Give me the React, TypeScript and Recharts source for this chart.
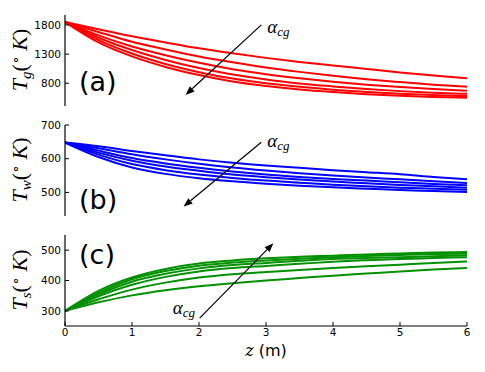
import { LineChart, Line, XAxis, YAxis, ReferenceLine } from 'recharts';

// axial position (m)
const zPoints = [0, 0.5, 1, 1.5, 2, 2.5, 3, 3.5, 4, 4.5, 5, 5.5, 6];
const zTicks = [0, 1, 2, 3, 4, 5, 6];

// (a) gas temperature, one row per alpha_cg
const tgSeries = [
	[1850, 1725, 1605, 1500, 1400, 1315, 1235, 1165, 1105, 1045, 985, 932, 886],
	[1850, 1680, 1510, 1380, 1260, 1160, 1070, 995, 930, 870, 820, 775, 740],
	[1850, 1620, 1430, 1280, 1150, 1040, 955, 885, 825, 775, 735, 700, 672],
	[1850, 1580, 1370, 1200, 1060, 950, 865, 795, 745, 700, 665, 638, 618],
	[1850, 1540, 1310, 1130, 990, 880, 800, 740, 690, 652, 620, 597, 580],
	[1850, 1500, 1260, 1080, 940, 830, 752, 692, 648, 612, 585, 565, 550],
];
const tgTicks = [800, 1300, 1800];

// (b) wall temperature
const twSeries = [
	[648, 637, 623, 610, 598, 588, 580, 573, 566, 560, 554, 546, 539],
	[648, 631, 613, 598, 585, 574, 565, 557, 550, 544, 539, 533, 528],
	[648, 624, 602, 586, 573, 562, 553, 546, 540, 535, 530, 525, 521],
	[648, 618, 594, 577, 564, 553, 545, 538, 532, 527, 522, 518, 514],
	[648, 612, 584, 566, 553, 543, 535, 529, 523, 518, 514, 511, 508],
	[648, 605, 574, 555, 542, 533, 526, 520, 515, 511, 507, 504, 501],
];
const twTicks = [500, 600, 700];

// (c) solid temperature
const tsSeries = [
	[300, 366, 410, 438, 456, 466, 473, 478, 482, 486, 489, 492, 494],
	[300, 359, 404, 431, 449, 459, 466, 472, 477, 481, 484, 487, 489],
	[300, 354, 396, 422, 440, 451, 458, 465, 471, 474, 477, 480, 483],
	[300, 348, 386, 412, 430, 441, 448, 455, 462, 467, 471, 474, 477],
	[300, 338, 370, 393, 410, 421, 428, 435, 441, 447, 452, 458, 463],
	[300, 328, 351, 368, 381, 391, 400, 408, 416, 423, 430, 436, 441],
];
const tsTicks = [300, 400, 500];

const FONT = 'DejaVu Sans, sans-serif';
const SERIF = 'DejaVu Serif, serif';
const MATH = 'Liberation Serif, serif';

function toRows(series: number[][]) {
	return zPoints.map((z, i) => {
		const row: Record<string, number> = { z };
		series.forEach((s, k) => (row[`s${k}`] = s[i]));
		return row;
	});
}

function arrowShape(dx: number, dy: number) {
	return (props: any) => {
		const { x1, y1, x2, y2 } = props;
		const ang = Math.atan2(y2 - y1, x2 - x1);
		const len = 9;
		const w = 3.5;
		const bx = x2 - len * Math.cos(ang);
		const by = y2 - len * Math.sin(ang);
		const px = -Math.sin(ang) * w;
		const py = Math.cos(ang) * w;
		return (
			<g>
				<line x1={x1} y1={y1} x2={bx} y2={by} stroke="#000" strokeWidth={1.2} />
				<polygon points={`${x2},${y2} ${bx + px},${by + py} ${bx - px},${by - py}`} fill="#000" />
				<text x={x1 + dx} y={y1 + dy} fontFamily={MATH} fontStyle="italic" fontSize={19} fill="#000">
					α<tspan fontSize={13} dy={3}>cg</tspan>
				</text>
			</g>
		);
	};
}

type PanelProps = {
	series: number[][];
	color: string;
	domain: [number, number];
	ticks: number[];
	top: number;
	height: number;
	showX: boolean;
	arrow: { from: { x: number; y: number }; to: { x: number; y: number }; dx: number; dy: number };
};

function Panel({ series, color, domain, ticks, top, height, showX, arrow }: PanelProps) {
	const rows = toRows(series);
	const axisLine = { stroke: '#000', strokeWidth: 1.2 };
	const tickLine = { stroke: '#000', strokeWidth: 1 };
	const tickStyle = { fontSize: 10.5, fill: '#000', fontFamily: FONT };
	return (
		<div style={{ position: 'absolute', left: 0, top, width: 485, height }}>
			<LineChart width={485} height={height} data={rows} margin={{ top: 15, right: 18, left: 0, bottom: showX ? 16 : 14 }}>
				<XAxis xAxisId="b" dataKey="z" type="number" domain={[0, 6]} ticks={zTicks} orientation="bottom"
					height={showX ? 30 : 0} tick={showX ? tickStyle : false} tickSize={-4} tickMargin={7}
					axisLine={axisLine} tickLine={tickLine} allowDataOverflow />
				<XAxis xAxisId="t" dataKey="z" type="number" domain={[0, 6]} ticks={zTicks} orientation="top"
					height={0} tick={false} tickSize={-4} axisLine={axisLine} tickLine={tickLine} allowDataOverflow />
				<YAxis yAxisId="l" type="number" domain={domain} ticks={ticks} orientation="left" width={65}
					tick={tickStyle} tickSize={-4} tickMargin={8} axisLine={axisLine} tickLine={tickLine} allowDataOverflow />
				<YAxis yAxisId="r" type="number" domain={domain} ticks={ticks} orientation="right" width={0}
					tick={false} tickSize={-4} axisLine={axisLine} tickLine={tickLine} allowDataOverflow />
				{series.map((_, k) => (
					<Line key={k} xAxisId="b" yAxisId="l" dataKey={`s${k}`} type="monotone" stroke={color}
						strokeWidth={2} dot={false} isAnimationActive={false} />
				))}
				<ReferenceLine xAxisId="b" yAxisId="l" segment={[arrow.from, arrow.to]}
					shape={arrowShape(arrow.dx, arrow.dy)} ifOverflow="visible" />
			</LineChart>
		</div>
	);
}

function YLabel({ cx, cy, sub }: { cx: number; cy: number; sub: string }) {
	return (
		<text transform={`translate(${cx},${cy}) rotate(-90)`} textAnchor="middle" fontFamily={MATH} fontSize={22} fill="#000">
			<tspan fontStyle="italic">T</tspan>
			<tspan fontStyle="italic" fontSize={15} dy={4}>{sub}</tspan>
			<tspan dy={-4}>(</tspan>
			<tspan fontSize={13} dy={-8}>∘</tspan>
			<tspan dy={8}> </tspan>
			<tspan fontStyle="italic">K</tspan>
			<tspan>)</tspan>
		</text>
	);
}

export default function App() {
	return (
		<div style={{ position: 'absolute', left: 0, top: 0, width: 485, height: 372, background: '#fff' }}>
			<Panel series={tgSeries} color="#ff0000" domain={[410, 1970]} ticks={tgTicks} top={0} height={120} showX={false}
				arrow={{ from: { x: 2.93, y: 1800 }, to: { x: 1.8, y: 600 }, dx: 6, dy: 8 }} />
			<Panel series={twSeries} color="#0000ff" domain={[430, 700]} ticks={twTicks} top={110} height={120} showX={false}
				arrow={{ from: { x: 2.93, y: 649 }, to: { x: 1.77, y: 458 }, dx: 6, dy: 5 }} />
			<Panel series={tsSeries} color="#009000" domain={[250, 550]} ticks={tsTicks} top={220} height={152} showX
				arrow={{ from: { x: 2.01, y: 276 }, to: { x: 3.11, y: 523 }, dx: -27, dy: -4 }} />
			<svg width={485} height={372} style={{ position: 'absolute', left: 0, top: 0, pointerEvents: 'none' }}>
				<g fontFamily={FONT} fontSize={27} fill="#000">
					<text x={79} y={91}>(a)</text>
					<text x={79} y={209}>(b)</text>
					<text x={79} y={264}>(c)</text>
				</g>
				<YLabel cx={27} cy={60} sub="g" />
				<YLabel cx={27} cy={170} sub="w" />
				<YLabel cx={27} cy={280} sub="s" />
				<text x={266} y={356} textAnchor="middle" fontFamily={FONT} fontSize={16} fill="#000">
					<tspan fontFamily={SERIF} fontStyle="italic">z</tspan> (m)
				</text>
			</svg>
		</div>
	);
}
